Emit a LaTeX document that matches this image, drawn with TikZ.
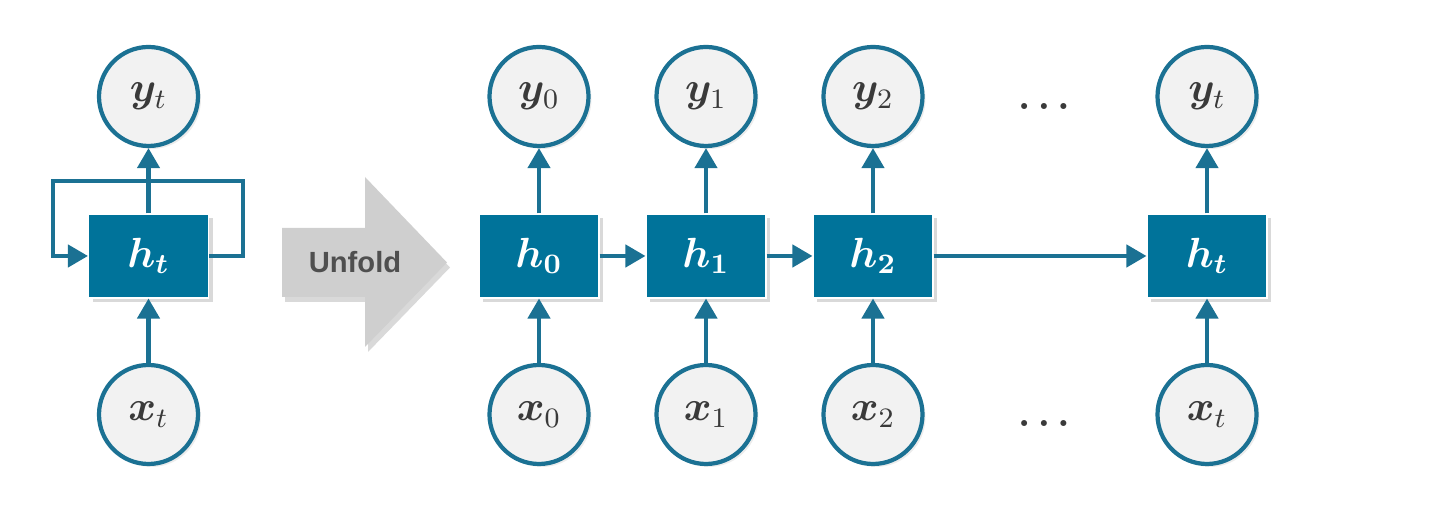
\documentclass[tikz,border=0pt]{standalone}
\usepackage{amsmath}
\usepackage{bm}
\usepackage{fontspec}
\setsansfont{Liberation Sans}
\usetikzlibrary{arrows.meta,shadows}

\definecolor{rnnblue}{HTML}{00739A}
\definecolor{rnnline}{HTML}{1B7193}
\definecolor{circfill}{HTML}{F2F2F2}
\definecolor{labelgray}{HTML}{3A3A3A}
\definecolor{foldgray}{HTML}{CFCFCF}
\definecolor{foldtext}{HTML}{4F4F4F}

\begin{document}
\begin{tikzpicture}[
	state/.style={circle, draw=rnnline, line width=1.2pt, fill=circfill, minimum size=0.99cm, inner sep=0pt, text=labelgray, font=\fontsize{11.5}{13}\selectfont, drop shadow={opacity=0.15, shadow xshift=0.03cm, shadow yshift=-0.03cm}},
	cell/.style={rectangle, fill=rnnblue, draw=white, line width=0.3pt, minimum width=1.2cm, minimum height=0.84cm, inner sep=0pt, text=white, font=\fontsize{11.5}{13}\selectfont, drop shadow={opacity=0.3, shadow xshift=0.04cm, shadow yshift=-0.04cm}},
	link/.style={draw=rnnline, line width=1.2pt, -{Triangle[width=0.22cm,length=0.2cm]}},
	dots/.style={text=labelgray, font=\fontsize{10.5}{12}\selectfont\boldmath},
	]
	
	\useasboundingbox (0,0) rectangle (14.46,5.06);
	
	\node [state] (yl) at (1.485,4.095) {$\bm{y}_t$};
	
	\node [cell] (hl) at (1.485,2.50) {$\bm{h}_{\bm{t}}$};
	
	\node [state] (xl) at (1.485,0.915) {$\bm{x}_t$};
	
	\coordinate (lr) at (2.43,3.25);
	\coordinate (ll) at (0.53,3.25);
	
	\draw [link] (hl.east) -| (lr) -- (ll) |- (hl.west);
	
	\draw [link] (hl) -- (yl);
	\draw [link] (xl) -- (hl);
	
	
	\fill [foldgray, drop shadow={opacity=0.3, shadow xshift=0.03cm, shadow yshift=-0.05cm}] (2.82,2.09) -- (3.65,2.09) -- (3.65,1.59) -- (4.47,2.435) -- (3.65,3.29) -- (3.65,2.78) -- (2.82,2.78) -- cycle;
	
	\node [text=foldtext, font=\sffamily\bfseries\fontsize{8.3}{10}\selectfont] (unfold) at (3.55,2.435) {Unfold};
	
	
	\node [state] (y0) at (5.39,4.095) {$\bm{y}_0$};
	\node [cell] (h0) at (5.39,2.50) {$\bm{h}_{\bm{0}}$};
	\node [state] (x0) at (5.39,0.915) {$\bm{x}_0$};
	
	\node [state] (y1) at (7.06,4.095) {$\bm{y}_1$};
	\node [cell] (h1) at (7.06,2.50) {$\bm{h}_{\bm{1}}$};
	\node [state] (x1) at (7.06,0.915) {$\bm{x}_1$};
	
	\node [state] (y2) at (8.73,4.095) {$\bm{y}_2$};
	\node [cell] (h2) at (8.73,2.50) {$\bm{h}_{\bm{2}}$};
	\node [state] (x2) at (8.73,0.915) {$\bm{x}_2$};
	
	\node [dots] (dy) at (10.44,3.99) {$\ldots$};
	\node [dots] (dx) at (10.44,0.82) {$\ldots$};
	
	\node [state] (yT) at (12.07,4.095) {$\bm{y}_t$};
	\node [cell] (hT) at (12.07,2.50) {$\bm{h}_{\bm{t}}$};
	\node [state] (xT) at (12.07,0.915) {$\bm{x}_t$};
	
	
	\draw [link] (h0) -- (y0);
	\draw [link] (x0) -- (h0);
	\draw [link] (h1) -- (y1);
	\draw [link] (x1) -- (h1);
	\draw [link] (h2) -- (y2);
	\draw [link] (x2) -- (h2);
	\draw [link] (hT) -- (yT);
	\draw [link] (xT) -- (hT);
	
	\draw [link] (h0) -- (h1);
	\draw [link] (h1) -- (h2);
	\draw [link] (h2) -- (hT);
	
	\end{tikzpicture}
\end{document}
